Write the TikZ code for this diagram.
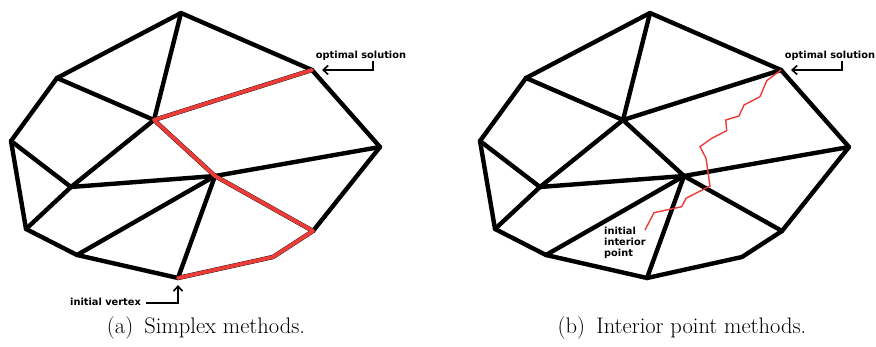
\documentclass[tikz,border=0pt]{standalone}
\usepackage{fontspec}
\newfontfamily\lblfont{DejaVu Sans}
\usetikzlibrary{arrows.meta}
\definecolor{pathred}{RGB}{235,60,56}
\tikzset{
  edge/.style={line width=4.4pt, line join=round, line cap=round, black},
  rededge/.style={line width=3.8pt, line join=round, line cap=round, pathred},
  zigzag/.style={line width=1.4pt, line join=miter, pathred},
  callout/.style={line width=1.6pt, -{Straight Barb[length=5pt,width=9pt,line width=1.6pt]}},
  lbl/.style={font=\lblfont\bfseries\fontsize{9.8}{10.7}\selectfont, inner sep=0pt},
  captxt/.style={font=\fontsize{22.5}{26}\selectfont, inner sep=0pt, anchor=base}
}
\newcommand\drawpolytope[2]{%
  \coordinate (#1T)   at (181+#2,13);
  \coordinate (#1OS)  at (312+#2,70);
  \coordinate (#1R)   at (380+#2,147);
  \coordinate (#1BR)  at (313+#2,231);
  \coordinate (#1BB)  at (273+#2,257);
  \coordinate (#1B)   at (178+#2,278);
  \coordinate (#1BLB) at (77+#2,255);
  \coordinate (#1BL)  at (26+#2,229);
  \coordinate (#1L)   at (11+#2,141);
  \coordinate (#1UL)  at (57+#2,78);
  \coordinate (#1CA)  at (154+#2,120);
  \coordinate (#1CB)  at (215+#2,176);
  \coordinate (#1CC)  at (71+#2,187);
  \draw[edge] (#1T) -- (#1OS) -- (#1R) -- (#1BR) -- (#1BB) -- (#1B) -- (#1BLB) -- (#1BL) -- (#1L) -- (#1UL) -- cycle;
  \draw[edge] (#1T) -- (#1CA);
  \draw[edge] (#1UL) -- (#1CA);
  \draw[edge] (#1CA) -- (#1OS);
  \draw[edge] (#1CA) -- (#1CB);
  \draw[edge] (#1CA) -- (#1CC);
  \draw[edge] (#1L) -- (#1CC);
  \draw[edge] (#1CC) -- (#1CB);
  \draw[edge] (#1CB) -- (#1R);
  \draw[edge] (#1CC) -- (#1BL);
  \draw[edge] (#1CB) -- (#1BLB);
  \draw[edge] (#1CB) -- (#1B);
  \draw[edge] (#1CB) -- (#1BR);
}
\begin{document}
\begin{tikzpicture}[x=1pt,y=-1pt]
\useasboundingbox[fill=white] (0,0) rectangle (876,347);
% (a) simplex
\drawpolytope{a}{0}
\draw[rededge] (aB) -- (aBB) -- (aBR) -- (aCB) -- (aCA) -- (aOS);
\node[lbl, anchor=base] (aopt) at (361,59) {optimal solution};
\coordinate (aoptk) at (373,70);
\draw[callout] ([xshift=12pt]aopt.south) -- (aoptk) -- ([xshift=10pt]aOS);
\node[lbl, anchor=base west] (ainit) at (70,306) {initial vertex};
\coordinate (ainitk) at (178,303);
\draw[callout] ([xshift=5pt,yshift=3pt]ainit.base east) -- (ainitk) -- ([yshift=-7pt]aB);
\node[captxt] (capa) at (206,334) {(a)\enspace Simplex methods.};
% (b) interior point
\drawpolytope{b}{469}
\coordinate (z1) at (766.7,80.7);
\coordinate (z2) at (760,96.7);
\coordinate (z3) at (744,105);
\coordinate (z4) at (739,116);
\coordinate (z5) at (725.7,120);
\coordinate (z6) at (726.7,130.7);
\coordinate (z7) at (711.7,138.3);
\coordinate (z8) at (700,146.7);
\coordinate (z9) at (706,158.3);
\coordinate (z10) at (710,186);
\coordinate (z11) at (686,198.3);
\coordinate (z12) at (681.7,206.7);
\coordinate (z13) at (654,212.7);
\coordinate (z14) at (645,230);
\draw[zigzag] (z14) -- (z13) -- (z12) -- (z11) -- (z10) -- (z9) -- (z8) -- (z7) -- (z6) -- (z5) -- (z4) -- (z3) -- (z2) -- (z1) -- (bOS);
\node[lbl, anchor=base] (bopt) at (830,59) {optimal solution};
\coordinate (boptk) at (842,70);
\draw[callout] ([xshift=12pt]bopt.south) -- (boptk) -- ([xshift=10pt]bOS);
\node[lbl, anchor=north west, align=left] (binit) at (604,227) {initial\\interior\\point};
\node[captxt] (capb) at (682,334) {(b)\enspace Interior point methods.};
\end{tikzpicture}
\end{document}
